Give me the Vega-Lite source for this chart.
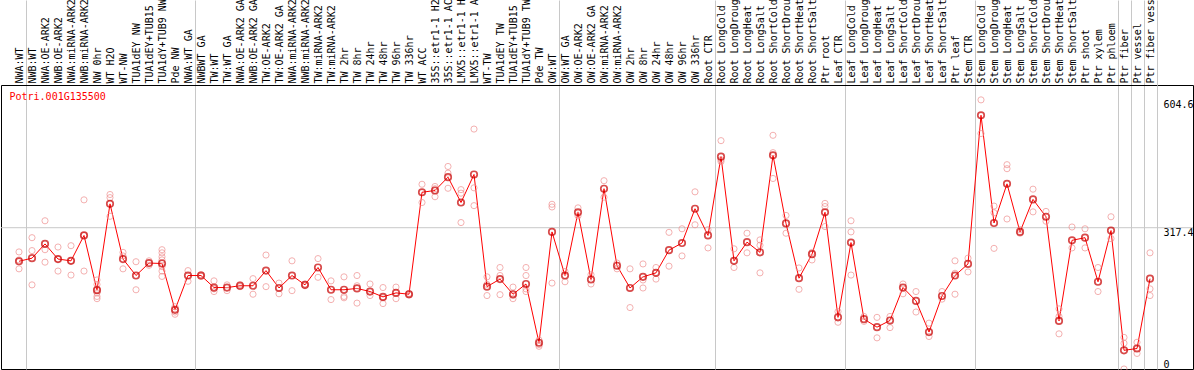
{
  "$schema": "https://vega.github.io/schema/vega-lite/v6.json",
  "width": 1192,
  "height": 284,
  "autosize": "none",
  "padding": {"left": 1, "top": 85, "right": 1, "bottom": 1},
  "background": "white",
  "config": {
    "view": {"stroke": "black", "strokeWidth": 1},
    "font": "DejaVu Sans Mono"
  },
  "datasets": {
    "means": [
      {"s": "NWA:WT", "v": 242}, {"s": "NWB:WT", "v": 249}, {"s": "NWA:OE-ARK2", "v": 281}, {"s": "NWB:OE-ARK2", "v": 247},
      {"s": "NWA:miRNA-ARK2", "v": 243}, {"s": "NWB:miRNA-ARK2", "v": 300}, {"s": "NW 0hr", "v": 177}, {"s": "WT H2O", "v": 371},
      {"s": "WT-NW", "v": 247}, {"s": "TUA1dEY NW", "v": 210}, {"s": "TUA1dEY+TUB15 NW", "v": 238}, {"s": "TUA1dY+TUB9 NW", "v": 237},
      {"s": "Pde NW", "v": 133},
      {"s": "NWA:WT GA", "v": 210}, {"s": "NWBWT GA", "v": 210}, {"s": "TW:WT", "v": 183}, {"s": "TW:WT GA", "v": 183},
      {"s": "NWA:OE-ARK2 GA", "v": 187}, {"s": "NWB:OE-ARK2 GA", "v": 187}, {"s": "TW:OE-ARK2", "v": 221}, {"s": "TW:OE-ARK2 GA", "v": 182},
      {"s": "NWA:miRNA-ARK2 GA", "v": 210}, {"s": "NWB:miRNA-ARK2 GA", "v": 189}, {"s": "TW:miRNA-ARK2", "v": 228}, {"s": "TW:miRNA-ARK2 GA", "v": 178},
      {"s": "TW 2hr", "v": 178}, {"s": "TW 8hr", "v": 181}, {"s": "TW 24hr", "v": 174}, {"s": "TW 48hr", "v": 162},
      {"s": "TW 96hr", "v": 171}, {"s": "TW 336hr", "v": 168}, {"s": "WT ACC", "v": 397}, {"s": "35S::etr1-1 H2O", "v": 401},
      {"s": "35S::etr1-1 ACC", "v": 431}, {"s": "LMX5::etr1-1 H2O", "v": 374}, {"s": "LMX5::etr1-1 ACC", "v": 437}, {"s": "WT-TW", "v": 185},
      {"s": "TUA1dEY TW", "v": 202}, {"s": "TUA1dEY+TUB15 TW", "v": 168}, {"s": "TUA1dY+TUB9 TW", "v": 191}, {"s": "Pde TW", "v": 59},
      {"s": "OW:WT", "v": 308}, {"s": "OW:WT GA", "v": 210}, {"s": "OW:OE-ARK2", "v": 352}, {"s": "OW:OE-ARK2 GA", "v": 201},
      {"s": "OW:miRNA-ARK2", "v": 405}, {"s": "OW:miRNA-ARK2 GA", "v": 232}, {"s": "OW 2hr", "v": 182}, {"s": "OW 8hr", "v": 207},
      {"s": "OW 24hr", "v": 216}, {"s": "OW 48hr", "v": 267}, {"s": "OW 96hr", "v": 283}, {"s": "OW 336hr", "v": 360},
      {"s": "Root CTR", "v": 300}, {"s": "Root LongCold", "v": 477}, {"s": "Root LongDrought", "v": 243}, {"s": "Root LongHeat", "v": 285},
      {"s": "Root LongSalt", "v": 262}, {"s": "Root ShortCold", "v": 480}, {"s": "Root ShortDrought", "v": 327}, {"s": "Root ShortHeat", "v": 204},
      {"s": "Root ShortSalt", "v": 258}, {"s": "Ptr root", "v": 352},
      {"s": "Leaf CTR", "v": 116}, {"s": "Leaf LongCold", "v": 284}, {"s": "Leaf LongDrought", "v": 112}, {"s": "Leaf LongHeat", "v": 94},
      {"s": "Leaf LongSalt", "v": 109}, {"s": "Leaf ShortCold", "v": 183}, {"s": "Leaf ShortDrought", "v": 153}, {"s": "Leaf ShortHeat", "v": 83},
      {"s": "Leaf ShortSalt", "v": 164}, {"s": "Ptr leaf", "v": 210},
      {"s": "Stem CTR", "v": 236}, {"s": "Stem LongCold", "v": 570}, {"s": "Stem LongDrought", "v": 328}, {"s": "Stem LongHeat", "v": 416},
      {"s": "Stem LongSalt", "v": 308}, {"s": "Stem ShortCold", "v": 381}, {"s": "Stem ShortDrought", "v": 342}, {"s": "Stem ShortHeat", "v": 108},
      {"s": "Stem ShortSalt", "v": 289}, {"s": "Ptr shoot", "v": 295}, {"s": "Ptr xylem", "v": 196},
      {"s": "Ptr phloem", "v": 311}, {"s": "Ptr fiber", "v": 42}, {"s": "Ptr vessel", "v": 46}, {"s": "Ptr fiber vessel", "v": 203}
    ],
    "reps": [
      {"s": "NWA:WT", "v": 263}, {"s": "NWA:WT", "v": 245}, {"s": "NWA:WT", "v": 225},
      {"s": "NWB:WT", "v": 295}, {"s": "NWB:WT", "v": 266}, {"s": "NWB:WT", "v": 189},
      {"s": "NWA:OE-ARK2", "v": 333}, {"s": "NWA:OE-ARK2", "v": 268}, {"s": "NWA:OE-ARK2", "v": 240},
      {"s": "NWB:OE-ARK2", "v": 274}, {"s": "NWB:OE-ARK2", "v": 247}, {"s": "NWB:OE-ARK2", "v": 220},
      {"s": "NWA:miRNA-ARK2", "v": 277}, {"s": "NWA:miRNA-ARK2", "v": 243}, {"s": "NWA:miRNA-ARK2", "v": 211},
      {"s": "NWB:miRNA-ARK2", "v": 380}, {"s": "NWB:miRNA-ARK2", "v": 300}, {"s": "NWB:miRNA-ARK2", "v": 220},
      {"s": "NW 0hr", "v": 200}, {"s": "NW 0hr", "v": 190}, {"s": "NW 0hr", "v": 179}, {"s": "NW 0hr", "v": 171}, {"s": "NW 0hr", "v": 163}, {"s": "NW 0hr", "v": 158},
      {"s": "WT H2O", "v": 392}, {"s": "WT H2O", "v": 385}, {"s": "WT H2O", "v": 343},
      {"s": "WT-NW", "v": 262}, {"s": "WT-NW", "v": 254}, {"s": "WT-NW", "v": 225},
      {"s": "TUA1dEY NW", "v": 241}, {"s": "TUA1dEY NW", "v": 178},
      {"s": "TUA1dEY+TUB15 NW", "v": 243}, {"s": "TUA1dEY+TUB15 NW", "v": 233},
      {"s": "TUA1dY+TUB9 NW", "v": 268}, {"s": "TUA1dY+TUB9 NW", "v": 261}, {"s": "TUA1dY+TUB9 NW", "v": 252}, {"s": "TUA1dY+TUB9 NW", "v": 245}, {"s": "TUA1dY+TUB9 NW", "v": 230}, {"s": "TUA1dY+TUB9 NW", "v": 220}, {"s": "TUA1dY+TUB9 NW", "v": 208},
      {"s": "Pde NW", "v": 140}, {"s": "Pde NW", "v": 128}, {"s": "Pde NW", "v": 123},
      {"s": "NWA:WT GA", "v": 221}, {"s": "NWA:WT GA", "v": 197},
      {"s": "NWBWT GA", "v": 212}, {"s": "NWBWT GA", "v": 208},
      {"s": "TW:WT", "v": 198}, {"s": "TW:WT", "v": 180}, {"s": "TW:WT", "v": 174},
      {"s": "TW:WT GA", "v": 189}, {"s": "TW:WT GA", "v": 176},
      {"s": "NWA:OE-ARK2 GA", "v": 190}, {"s": "NWA:OE-ARK2 GA", "v": 185},
      {"s": "NWB:OE-ARK2 GA", "v": 203}, {"s": "NWB:OE-ARK2 GA", "v": 168},
      {"s": "TW:OE-ARK2", "v": 256}, {"s": "TW:OE-ARK2", "v": 185},
      {"s": "TW:OE-ARK2 GA", "v": 193}, {"s": "TW:OE-ARK2 GA", "v": 169},
      {"s": "NWA:miRNA-ARK2 GA", "v": 243}, {"s": "NWA:miRNA-ARK2 GA", "v": 176},
      {"s": "NWB:miRNA-ARK2 GA", "v": 191}, {"s": "NWB:miRNA-ARK2 GA", "v": 187},
      {"s": "TW:miRNA-ARK2", "v": 248}, {"s": "TW:miRNA-ARK2", "v": 206},
      {"s": "TW:miRNA-ARK2 GA", "v": 198}, {"s": "TW:miRNA-ARK2 GA", "v": 156},
      {"s": "TW 2hr", "v": 207}, {"s": "TW 2hr", "v": 163}, {"s": "TW 2hr", "v": 160},
      {"s": "TW 8hr", "v": 210}, {"s": "TW 8hr", "v": 187}, {"s": "TW 8hr", "v": 148},
      {"s": "TW 24hr", "v": 191}, {"s": "TW 24hr", "v": 165},
      {"s": "TW 48hr", "v": 183}, {"s": "TW 48hr", "v": 160}, {"s": "TW 48hr", "v": 147},
      {"s": "TW 96hr", "v": 184}, {"s": "TW 96hr", "v": 158},
      {"s": "TW 336hr", "v": 170}, {"s": "TW 336hr", "v": 166},
      {"s": "WT ACC", "v": 415}, {"s": "WT ACC", "v": 374},
      {"s": "35S::etr1-1 H2O", "v": 410}, {"s": "35S::etr1-1 H2O", "v": 405}, {"s": "35S::etr1-1 H2O", "v": 387},
      {"s": "35S::etr1-1 ACC", "v": 455}, {"s": "35S::etr1-1 ACC", "v": 440}, {"s": "35S::etr1-1 ACC", "v": 406},
      {"s": "LMX5::etr1-1 H2O", "v": 403}, {"s": "LMX5::etr1-1 H2O", "v": 395}, {"s": "LMX5::etr1-1 H2O", "v": 329},
      {"s": "LMX5::etr1-1 ACC", "v": 539}, {"s": "LMX5::etr1-1 ACC", "v": 407}, {"s": "LMX5::etr1-1 ACC", "v": 367},
      {"s": "WT-TW", "v": 207}, {"s": "WT-TW", "v": 190}, {"s": "WT-TW", "v": 165},
      {"s": "TUA1dEY TW", "v": 228}, {"s": "TUA1dEY TW", "v": 210}, {"s": "TUA1dEY TW", "v": 167},
      {"s": "TUA1dEY+TUB15 TW", "v": 184}, {"s": "TUA1dEY+TUB15 TW", "v": 165}, {"s": "TUA1dEY+TUB15 TW", "v": 158},
      {"s": "TUA1dY+TUB9 TW", "v": 228}, {"s": "TUA1dY+TUB9 TW", "v": 210}, {"s": "TUA1dY+TUB9 TW", "v": 180}, {"s": "TUA1dY+TUB9 TW", "v": 174},
      {"s": "Pde TW", "v": 65}, {"s": "Pde TW", "v": 55}, {"s": "Pde TW", "v": 51},
      {"s": "OW:WT", "v": 370}, {"s": "OW:WT", "v": 364}, {"s": "OW:WT", "v": 193},
      {"s": "OW:WT GA", "v": 219}, {"s": "OW:WT GA", "v": 196},
      {"s": "OW:OE-ARK2", "v": 362}, {"s": "OW:OE-ARK2", "v": 344},
      {"s": "OW:OE-ARK2 GA", "v": 212}, {"s": "OW:OE-ARK2 GA", "v": 191},
      {"s": "OW:miRNA-ARK2", "v": 423}, {"s": "OW:miRNA-ARK2", "v": 386},
      {"s": "OW:miRNA-ARK2 GA", "v": 238}, {"s": "OW:miRNA-ARK2 GA", "v": 225},
      {"s": "OW 2hr", "v": 225}, {"s": "OW 2hr", "v": 138},
      {"s": "OW 8hr", "v": 236}, {"s": "OW 8hr", "v": 200}, {"s": "OW 8hr", "v": 182},
      {"s": "OW 24hr", "v": 228}, {"s": "OW 24hr", "v": 202},
      {"s": "OW 48hr", "v": 307}, {"s": "OW 48hr", "v": 231},
      {"s": "OW 96hr", "v": 315}, {"s": "OW 96hr", "v": 254},
      {"s": "OW 336hr", "v": 398}, {"s": "OW 336hr", "v": 324},
      {"s": "Root CTR", "v": 313}, {"s": "Root CTR", "v": 272},
      {"s": "Root LongCold", "v": 513}, {"s": "Root LongCold", "v": 470}, {"s": "Root LongCold", "v": 466},
      {"s": "Root LongDrought", "v": 270}, {"s": "Root LongDrought", "v": 228},
      {"s": "Root LongHeat", "v": 305}, {"s": "Root LongHeat", "v": 261},
      {"s": "Root LongSalt", "v": 290}, {"s": "Root LongSalt", "v": 278}, {"s": "Root LongSalt", "v": 216},
      {"s": "Root ShortCold", "v": 525}, {"s": "Root ShortCold", "v": 486}, {"s": "Root ShortCold", "v": 428},
      {"s": "Root ShortDrought", "v": 345}, {"s": "Root ShortDrought", "v": 305},
      {"s": "Root ShortHeat", "v": 227}, {"s": "Root ShortHeat", "v": 179},
      {"s": "Root ShortSalt", "v": 262}, {"s": "Root ShortSalt", "v": 245},
      {"s": "Ptr root", "v": 372}, {"s": "Ptr root", "v": 365}, {"s": "Ptr root", "v": 320},
      {"s": "Leaf CTR", "v": 129}, {"s": "Leaf CTR", "v": 105},
      {"s": "Leaf LongCold", "v": 333}, {"s": "Leaf LongCold", "v": 308}, {"s": "Leaf LongCold", "v": 211},
      {"s": "Leaf LongDrought", "v": 118}, {"s": "Leaf LongDrought", "v": 107},
      {"s": "Leaf LongHeat", "v": 116}, {"s": "Leaf LongHeat", "v": 70},
      {"s": "Leaf LongSalt", "v": 118}, {"s": "Leaf LongSalt", "v": 93},
      {"s": "Leaf ShortCold", "v": 191}, {"s": "Leaf ShortCold", "v": 169},
      {"s": "Leaf ShortDrought", "v": 174}, {"s": "Leaf ShortDrought", "v": 128},
      {"s": "Leaf ShortHeat", "v": 103}, {"s": "Leaf ShortHeat", "v": 73},
      {"s": "Leaf ShortSalt", "v": 174}, {"s": "Leaf ShortSalt", "v": 157},
      {"s": "Ptr leaf", "v": 243}, {"s": "Ptr leaf", "v": 215}, {"s": "Ptr leaf", "v": 168},
      {"s": "Stem CTR", "v": 249}, {"s": "Stem CTR", "v": 218},
      {"s": "Stem LongCold", "v": 604.6}, {"s": "Stem LongCold", "v": 529},
      {"s": "Stem LongDrought", "v": 366}, {"s": "Stem LongDrought", "v": 351}, {"s": "Stem LongDrought", "v": 271},
      {"s": "Stem LongHeat", "v": 459}, {"s": "Stem LongHeat", "v": 450}, {"s": "Stem LongHeat", "v": 337},
      {"s": "Stem LongSalt", "v": 313}, {"s": "Stem LongSalt", "v": 305},
      {"s": "Stem ShortCold", "v": 404}, {"s": "Stem ShortCold", "v": 353},
      {"s": "Stem ShortDrought", "v": 354}, {"s": "Stem ShortDrought", "v": 332},
      {"s": "Stem ShortHeat", "v": 135}, {"s": "Stem ShortHeat", "v": 118}, {"s": "Stem ShortHeat", "v": 79},
      {"s": "Stem ShortSalt", "v": 319}, {"s": "Stem ShortSalt", "v": 272},
      {"s": "Ptr shoot", "v": 315}, {"s": "Ptr shoot", "v": 272},
      {"s": "Ptr xylem", "v": 228}, {"s": "Ptr xylem", "v": 174},
      {"s": "Ptr phloem", "v": 342}, {"s": "Ptr phloem", "v": 293},
      {"s": "Ptr fiber", "v": 71}, {"s": "Ptr fiber", "v": 58}, {"s": "Ptr fiber", "v": 0},
      {"s": "Ptr vessel", "v": 60}, {"s": "Ptr vessel", "v": 35},
      {"s": "Ptr fiber vessel", "v": 261}, {"s": "Ptr fiber vessel", "v": 180}, {"s": "Ptr fiber vessel", "v": 165}
    ]
  },
  "layer": [
    {
      "data": {"values": [{"line": "317.4"}]},
      "mark": {"type": "rule", "color": "#c8c8c8", "strokeWidth": 1},
      "encoding": {"y": {"datum": 317.4, "type": "quantitative"}}
    },
    {
      "data": {"name": "means"},
      "mark": {"type": "line", "color": "#ff0000", "strokeWidth": 1},
      "encoding": {
        "order": {"value": null},
        "x": {
          "field": "s", "type": "nominal",
          "scale": {
            "type": "band",
            "domain": ["NWA:WT", "NWB:WT", "NWA:OE-ARK2", "NWB:OE-ARK2", "NWA:miRNA-ARK2", "NWB:miRNA-ARK2", "NW 0hr", "WT H2O", "WT-NW", "TUA1dEY NW", "TUA1dEY+TUB15 NW", "TUA1dY+TUB9 NW", "Pde NW",
              "NWA:WT GA", "NWBWT GA", "TW:WT", "TW:WT GA", "NWA:OE-ARK2 GA", "NWB:OE-ARK2 GA", "TW:OE-ARK2", "TW:OE-ARK2 GA", "NWA:miRNA-ARK2 GA", "NWB:miRNA-ARK2 GA", "TW:miRNA-ARK2", "TW:miRNA-ARK2 GA", "TW 2hr", "TW 8hr", "TW 24hr", "TW 48hr", "TW 96hr", "TW 336hr", "WT ACC", "35S::etr1-1 H2O", "35S::etr1-1 ACC", "LMX5::etr1-1 H2O", "LMX5::etr1-1 ACC", "WT-TW", "TUA1dEY TW", "TUA1dEY+TUB15 TW", "TUA1dY+TUB9 TW", "Pde TW",
              "OW:WT", "OW:WT GA", "OW:OE-ARK2", "OW:OE-ARK2 GA", "OW:miRNA-ARK2", "OW:miRNA-ARK2 GA", "OW 2hr", "OW 8hr", "OW 24hr", "OW 48hr", "OW 96hr", "OW 336hr",
              "Root CTR", "Root LongCold", "Root LongDrought", "Root LongHeat", "Root LongSalt", "Root ShortCold", "Root ShortDrought", "Root ShortHeat", "Root ShortSalt", "Ptr root",
              "Leaf CTR", "Leaf LongCold", "Leaf LongDrought", "Leaf LongHeat", "Leaf LongSalt", "Leaf ShortCold", "Leaf ShortDrought", "Leaf ShortHeat", "Leaf ShortSalt", "Ptr leaf",
              "Stem CTR", "Stem LongCold", "Stem LongDrought", "Stem LongHeat", "Stem LongSalt", "Stem ShortCold", "Stem ShortDrought", "Stem ShortHeat", "Stem ShortSalt", "Ptr shoot", "Ptr xylem",
              "Ptr phloem", "Ptr fiber", "Ptr vessel", "Ptr fiber vessel"],
            "range": [11.5, 1155.5],
            "paddingInner": 0,
            "paddingOuter": 0,
            "round": false
          },
          "axis": {
            "orient": "top",
            "title": null,
            "labelAngle": -90,
            "labelAlign": "left",
            "labelBaseline": "middle",
            "labelFont": "DejaVu Sans Mono",
            "labelFontSize": 10,
            "labelColor": "black",
            "labelOverlap": false,
            "labelBound": false,
            "labelLimit": 300,
            "tickSize": 85,
            "labelPadding": -83,
            "tickBand": "extent",
            "tickWidth": 1,
            "tickColor": {"condition": {"test": "indexof(['NWA:WT','NWA:WT GA','OW:WT','Root CTR','Leaf CTR','Stem CTR','Ptr phloem','Ptr fiber','Ptr vessel','Ptr fiber vessel'], datum.value) >= 0", "value": "#c8c8c8"}, "value": "transparent"},
            "grid": true,
            "gridWidth": 1,
            "gridColor": {"condition": {"test": "indexof(['NWA:WT','NWA:WT GA','OW:WT','Root CTR','Leaf CTR','Stem CTR','Ptr phloem','Ptr fiber','Ptr vessel','Ptr fiber vessel'], datum.value) >= 0", "value": "#c8c8c8"}, "value": "transparent"},
            "domain": true,
            "domainColor": "black",
            "domainWidth": 1
          }
        },
        "y": {
          "field": "v", "type": "quantitative",
          "scale": {"domain": [0, 638], "nice": false, "zero": true},
          "axis": {
            "orient": "right",
            "title": null,
            "values": [0, 317.4, 604.6],
            "format": ".1~f",
            "domain": false,
            "ticks": false,
            "grid": false,
            "offset": -30,
            "labelPadding": 0,
            "labelAlign": "left",
            "labelBaseline": {"condition": {"test": "datum.value === 0", "value": "bottom"}, "value": "top"},
            "labelFont": "DejaVu Sans Mono",
            "labelFontSize": 10,
            "labelColor": "black",
            "labelFlush": false,
            "labelOverlap": false
          }
        }
      }
    },
    {
      "data": {"name": "reps"},
      "mark": {"type": "point", "shape": "circle", "filled": false, "size": 38, "stroke": "#f09090", "strokeWidth": 1},
      "encoding": {
        "x": {"field": "s", "type": "nominal"},
        "y": {"field": "v", "type": "quantitative"}
      }
    },
    {
      "data": {"name": "means"},
      "mark": {"type": "point", "shape": "circle", "filled": false, "size": 42, "stroke": "#c80000", "strokeWidth": 1.7},
      "encoding": {
        "x": {"field": "s", "type": "nominal"},
        "y": {"field": "v", "type": "quantitative"}
      }
    },
    {
      "data": {"values": [{"gene": "Potri.001G135500"}]},
      "mark": {"type": "text", "align": "left", "baseline": "middle", "font": "DejaVu Sans Mono", "fontSize": 10, "color": "#ff0000", "dx": -3},
      "encoding": {
        "x": {"datum": "NWA:WT", "type": "nominal", "bandPosition": 0},
        "y": {"datum": 610, "type": "quantitative"},
        "text": {"field": "gene"}
      }
    }
  ]
}
